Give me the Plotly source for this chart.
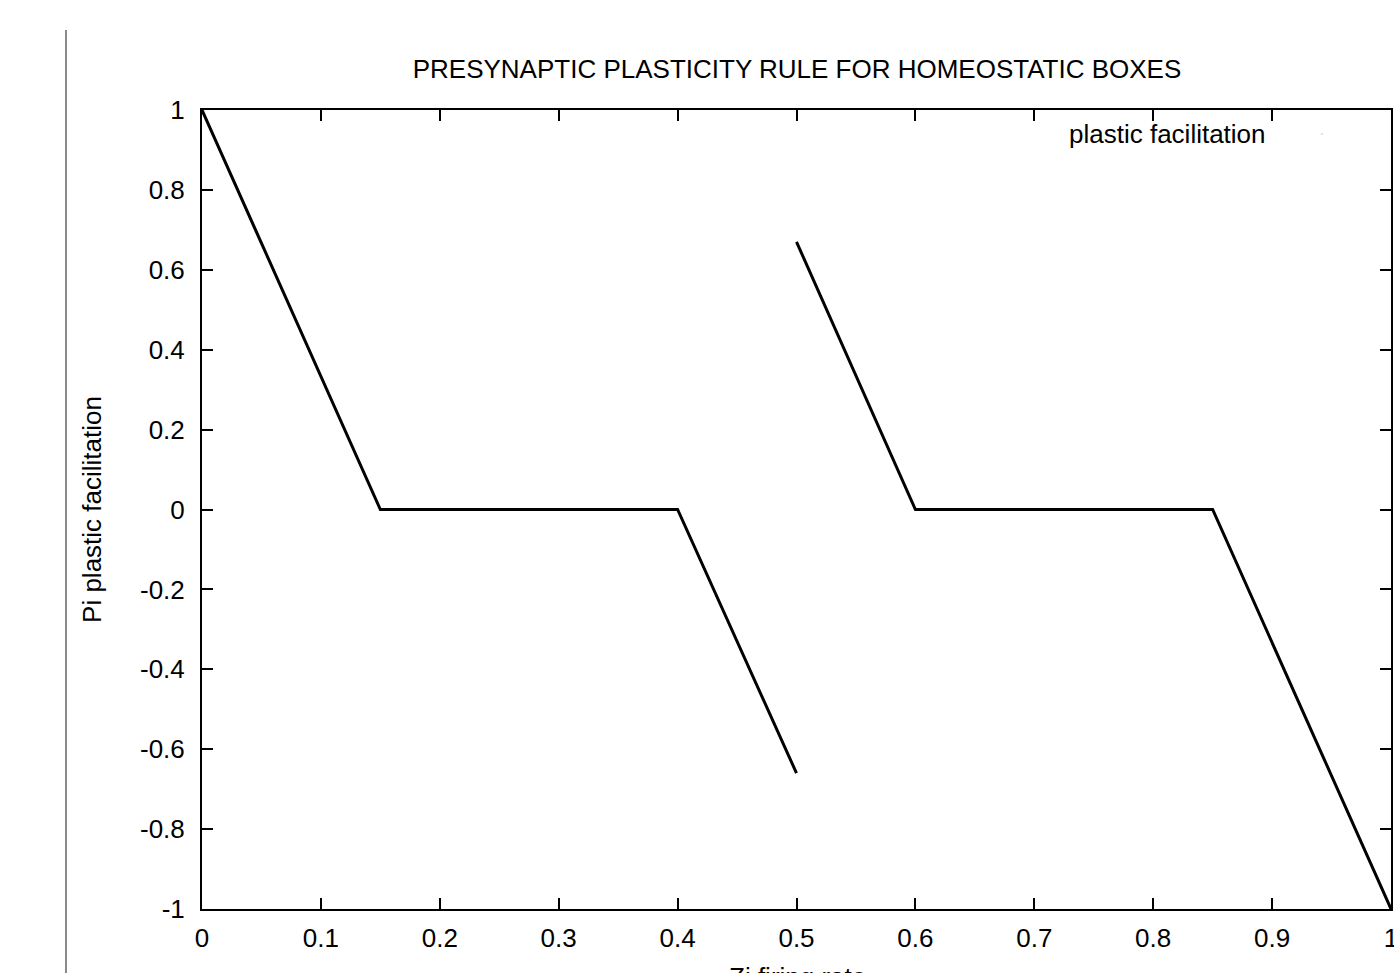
import plotly.graph_objects as go

# Data
rate_x = [0.0, 0.15, 0.40, 0.50, None, 0.50, 0.60, 0.85, 1.00]
facil_y = [1.0, 0.0, 0.0, -0.66, None, 0.67, 0.0, 0.0, -1.0]
x_ticks = [0, 0.1, 0.2, 0.3, 0.4, 0.5, 0.6, 0.7, 0.8, 0.9, 1]
x_tick_text = ["0", "0.1", "0.2", "0.3", "0.4", "0.5", "0.6", "0.7", "0.8", "0.9", "1"]
y_ticks = [-1, -0.8, -0.6, -0.4, -0.2, 0, 0.2, 0.4, 0.6, 0.8, 1]
y_tick_text = ["-1", "-0.8", "-0.6", "-0.4", "-0.2", "0", "0.2", "0.4", "0.6", "0.8", "1"]

W, H = 1394, 973
L, R, T, B = 202, 3, 110, 64
pw, ph = W - L - R, H - T - B

def px(xp):
    return (xp - L) / pw

def py(yp):
    return (H - B - yp) / ph

FONT = "Liberation Sans, Arial, Helvetica, sans-serif"
FS = 26

fig = go.Figure()
fig.add_trace(go.Scatter(
    x=rate_x, y=facil_y, mode="lines",
    line=dict(color="black", width=3),
    connectgaps=False, showlegend=False, name="plastic facilitation",
))

axis_common = dict(
    showgrid=False, zeroline=False, showline=True, linecolor="black", linewidth=2,
    mirror="allticks", ticks="inside", ticklen=11, tickwidth=2, tickcolor="black",
    tickfont=dict(family=FONT, size=FS, color="black"),
)
fig.update_xaxes(range=[0, 1], tickvals=x_ticks, ticktext=x_tick_text,
                 ticklabelstandoff=5, ticklabeloverflow="allow", **axis_common)
fig.update_yaxes(range=[-1, 1], tickvals=y_ticks, ticktext=y_tick_text,
                 ticklabelstandoff=10,
                 title=dict(text="Pi plastic facilitation", standoff=31,
                            font=dict(family=FONT, size=FS, color="black")),
                 **axis_common)

fig.update_layout(
    width=W, height=H,
    margin=dict(l=L, r=R, t=T, b=B, autoexpand=False),
    plot_bgcolor="white", paper_bgcolor="white",
    title=dict(text="PRESYNAPTIC PLASTICITY RULE FOR HOMEOSTATIC BOXES",
               x=px(797), xref="paper", xanchor="center",
               y=1 - 69 / H, yref="container", yanchor="middle",
               font=dict(family=FONT, size=FS, color="black")),
    annotations=[
        dict(text="plastic facilitation", xref="paper", yref="paper",
             x=px(1268), y=py(134), xanchor="right", yanchor="middle",
             showarrow=False, font=dict(family=FONT, size=FS, color="black")),
        dict(text="Zi firing rate", xref="paper", yref="paper",
             x=px(797), y=py(977), xanchor="center", yanchor="middle",
             showarrow=False, font=dict(family=FONT, size=FS, color="black")),
    ],
    shapes=[
        dict(type="line", xref="paper", yref="paper",
             x0=px(66), x1=px(66), y0=py(30), y1=py(975),
             line=dict(color="#8a8a8a", width=2)),
        dict(type="line", xref="paper", yref="paper",
             x0=px(1321), x1=px(1323), y0=py(134), y1=py(134),
             line=dict(color="#c8c8c8", width=1)),
    ],
)

fig.write_html(
    "out.html",
    config={"displayModeBar": False},
    post_script="document.body.style.margin='0';document.body.style.padding='0';"
                "document.body.style.overflow='hidden';"
                "document.documentElement.style.overflow='hidden';",
)
